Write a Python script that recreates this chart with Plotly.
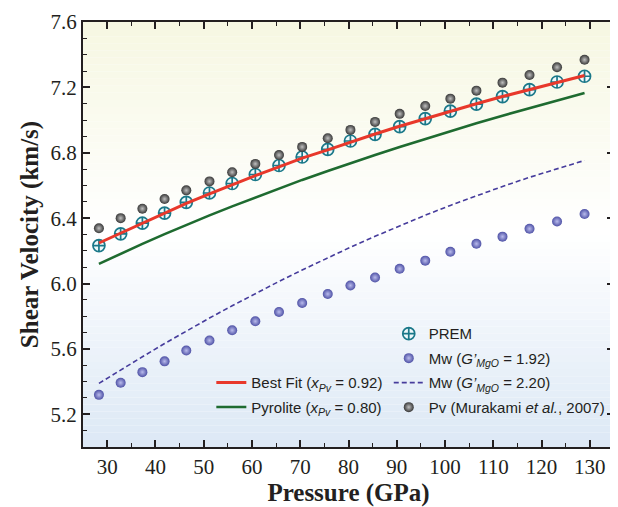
import plotly.graph_objects as go

# ---- data ----
pressure = [28.3, 32.8, 37.3, 41.9, 46.4, 51.2, 55.9, 60.7, 65.6, 70.4, 75.7,
            80.4, 85.5, 90.6, 95.9, 101.1, 106.5, 111.9, 117.5, 123.2, 128.9]
prem = [6.232, 6.304, 6.369, 6.431, 6.497, 6.554, 6.612, 6.667, 6.722, 6.774, 6.821,
        6.872, 6.913, 6.960, 7.009, 7.055, 7.098, 7.143, 7.186, 7.233, 7.268]
mw_192 = [5.319, 5.393, 5.458, 5.524, 5.590, 5.652, 5.714, 5.769, 5.826, 5.881, 5.936,
          5.988, 6.037, 6.090, 6.140, 6.194, 6.243, 6.287, 6.335, 6.380, 6.425]
pv_murakami = [6.338, 6.400, 6.458, 6.517, 6.570, 6.625, 6.681, 6.732, 6.786, 6.836, 6.889,
               6.940, 6.989, 7.038, 7.086, 7.131, 7.180, 7.229, 7.276, 7.323, 7.369]
best_fit = [6.248, 6.309, 6.370, 6.430, 6.490, 6.548, 6.605, 6.660, 6.714, 6.767, 6.818,
            6.866, 6.915, 6.962, 7.009, 7.055, 7.100, 7.144, 7.188, 7.231, 7.273]
pyrolite = [6.120, 6.182, 6.243, 6.302, 6.359, 6.417, 6.472, 6.527, 6.581, 6.634, 6.688,
            6.736, 6.786, 6.835, 6.884, 6.932, 6.980, 7.027, 7.074, 7.121, 7.166]
mw_220 = [5.389, 5.472, 5.552, 5.633, 5.709, 5.789, 5.864, 5.939, 6.013, 6.083, 6.158,
          6.222, 6.289, 6.353, 6.418, 6.478, 6.537, 6.594, 6.650, 6.703, 6.753]

x_ticks = [30, 40, 50, 60, 70, 80, 90, 100, 110, 120, 130]
y_ticks = [5.2, 5.6, 6.0, 6.4, 6.8, 7.2, 7.6]

AXC = "#231f20"
SERIF = "Liberation Serif, Times New Roman, serif"
SANS = "Liberation Sans, Arial, sans-serif"

fig = go.Figure()

# legend 2 (right) entries
fig.add_trace(go.Scatter(
    x=pressure, y=prem, mode="markers", name="PREM", legend="legend2",
    legendgroup="g1",
    marker=dict(symbol="circle-cross", size=12, color="#eef8fa",
                line=dict(color="#1a7889", width=1.7))))
fig.add_trace(go.Scatter(
    x=pressure, y=mw_192, mode="markers", legend="legend2", legendgroup="g2",
    name="Mw (<i>G’<sub>MgO</sub></i> = 1.92)",
    marker=dict(size=10, color="#4f52a6",
                gradient=dict(type="radial", color="#b9bbec"),
                line=dict(width=0))))
fig.add_trace(go.Scatter(
    x=pressure, y=mw_220, mode="lines", legend="legend2", legendgroup="g3",
    name="Mw (<i>G’<sub>MgO</sub></i> = 2.20)",
    line=dict(color="#463c9c", width=1.6, dash="5px,3px")))
fig.add_trace(go.Scatter(
    x=pressure, y=pv_murakami, mode="markers", legend="legend2", legendgroup="g4",
    name="Pv (Murakami <i>et al.</i>, 2007)",
    marker=dict(size=10, color="#383838",
                gradient=dict(type="radial", color="#c0c0c0"),
                line=dict(width=0))))
# legend 1 (left) entries
fig.add_trace(go.Scatter(
    x=pressure, y=best_fit, mode="lines", legend="legend", legendgroup="g5",
    name="Best Fit (<i>x<sub>Pv</sub></i> = 0.92)",
    line=dict(color="#e8382b", width=3)))
fig.add_trace(go.Scatter(
    x=pressure, y=pyrolite, mode="lines", legend="legend", legendgroup="g6",
    name="Pyrolite (<i>x<sub>Pv</sub></i> = 0.80)",
    line=dict(color="#1e6b30", width=2.6)))

# ---- gradient background (yellowish top -> white -> light blue bottom) ----
def lerp(c1, c2, t):
    return tuple(round(a + (b - a) * t) for a, b in zip(c1, c2))

top_c = (246, 247, 226)
mid_c = (255, 255, 255)
bot_c = (220, 232, 245)
shapes = []
N = 60
for i in range(N):
    t = (i + 0.5) / N          # 0 bottom -> 1 top
    if t < 0.5:
        c = lerp(bot_c, mid_c, min(1.0, t / 0.5))
    else:
        c = lerp(mid_c, top_c, (t - 0.5) / 0.5)
    shapes.append(dict(type="rect", xref="paper", yref="paper",
                       x0=0, x1=1, y0=i / N, y1=(i + 1) / N,
                       fillcolor="rgb(%d,%d,%d)" % c, line=dict(width=0),
                       layer="below"))

axis_common = dict(showline=True, linecolor=AXC, linewidth=2, mirror="ticks",
                   ticks="inside", ticklen=7, tickwidth=1.6, tickcolor=AXC,
                   showgrid=False, zeroline=False, automargin=False,
                   tickfont=dict(family=SERIF, size=21, color=AXC))

# the page body has an 8px default margin, so the figure is sized/margined to compensate
fig.update_layout(
    width=610, height=499,
    margin=dict(l=75, r=4, t=14, b=60),
    paper_bgcolor="white", plot_bgcolor="white",
    shapes=shapes,
    xaxis=dict(range=[25, 135], tickvals=x_ticks,
               minor=dict(dtick=5, tick0=25, ticks="inside", ticklen=4,
                          tickwidth=1.4, tickcolor=AXC),
               title=dict(text="<b>Pressure (GPa)</b>", standoff=0,
                          font=dict(family=SERIF, size=25, color=AXC)),
               **axis_common),
    yaxis=dict(range=[5.0, 7.6], tickvals=y_ticks, tickformat=".1f",
               minor=dict(dtick=0.1, tick0=5.0, ticks="inside", ticklen=4,
                          tickwidth=1.4, tickcolor=AXC),
               title=dict(text="<b>Shear Velocity (km/s)</b>", standoff=5,
                          font=dict(family=SERIF, size=25, color=AXC)),
               **axis_common),
    legend=dict(x=0.575, xanchor="right", y=0.19, yanchor="top",
                bgcolor="rgba(0,0,0,0)", borderwidth=0,
                font=dict(family=SANS, size=15, color=AXC),
                tracegroupgap=2, itemwidth=30),
    legend2=dict(x=0.992, xanchor="right", y=0.305, yanchor="top",
                 bgcolor="rgba(0,0,0,0)", borderwidth=0,
                 font=dict(family=SANS, size=15, color=AXC),
                 tracegroupgap=2, itemwidth=30),
)

fig.write_html("out.html")
